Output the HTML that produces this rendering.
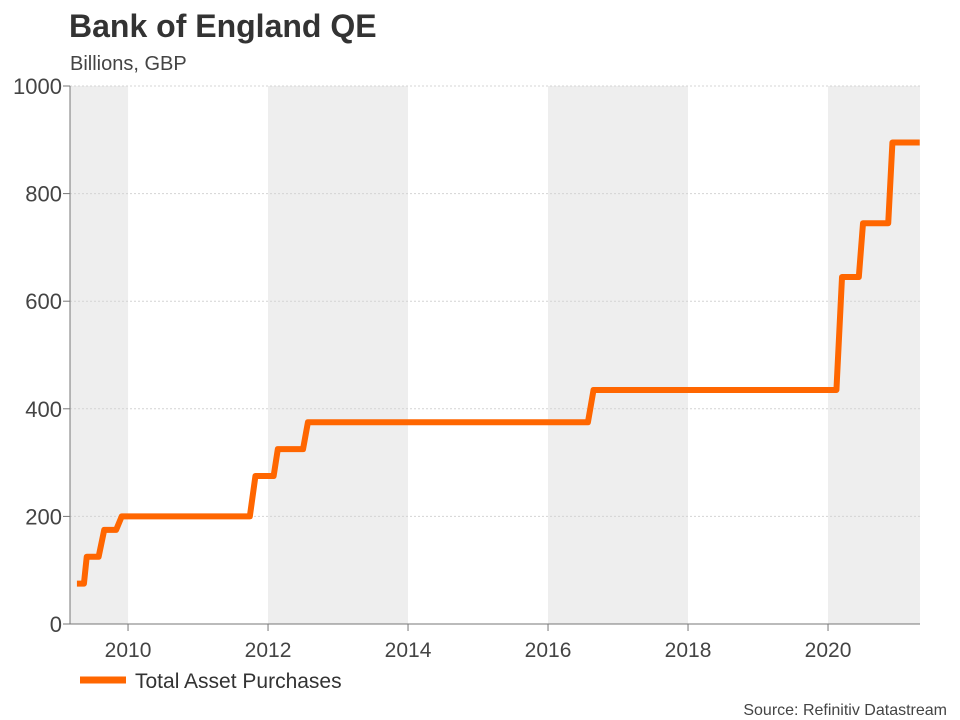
<!DOCTYPE html>
<html><head><meta charset="utf-8"><style>
body{margin:0;background:#fff;}
svg{display:block;font-family:"Liberation Sans",Arial,sans-serif;}
</style></head><body>
<svg id="chart" width="960" height="720">
<text x="69" y="37" font-size="32" font-weight="bold" fill="#333">Bank of England QE</text>
<text x="70" y="70" font-size="20" fill="#444">Billions, GBP</text>
<g id="bands"></g><g id="grid"></g><g id="axes"></g><g id="series"></g>
<line x1="80" y1="680" x2="126" y2="680" stroke="#ff6600" stroke-width="7"/>
<text x="135" y="688" font-size="21" fill="#333">Total Asset Purchases</text>
<text x="947" y="715" font-size="16" fill="#444" text-anchor="end">Source: Refinitiv Datastream</text>
</svg>
<script>
const dates=[2009.27,2009.37,2009.41,2009.58,2009.66,2009.83,2009.91,2011.74,2011.82,2012.08,2012.14,2012.50,2012.57,2016.57,2016.65,2020.12,2020.20,2020.44,2020.50,2020.86,2020.92,2021.31];
const values=[75,75,125,125,175,175,200,200,275,275,325,325,375,375,435,435,645,645,745,745,895,895];
const yTicks=[0,200,400,600,800,1000];
const xTicks=[2010,2012,2014,2016,2018,2020];
const bandStarts=[2008,2012,2016,2020];
const X0=70,X1=920,Y0=624,Y1=86,T0=2009.171,T1=2021.314;
const x=t=>X0+(t-T0)/(T1-T0)*(X1-X0);
const y=v=>Y0-v/1000*(Y0-Y1);
const NS="http://www.w3.org/2000/svg";
function mk(tag,attrs,parent,txt){const e=document.createElementNS(NS,tag);for(const k in attrs)e.setAttribute(k,attrs[k]);if(txt!=null)e.textContent=txt;document.getElementById(parent).appendChild(e);return e;}
bandStarts.forEach(b=>{const a=Math.max(x(b),X0),c=Math.min(x(b+2),X1);
const r=mk('rect',{x:a,y:Y1,width:c-a,height:Y0-Y1,fill:'#eeeeee'},'bands');

});
yTicks.forEach(v=>{
if(v>0){const g=mk('line',{x1:X0,x2:X1,y1:y(v),y2:y(v),stroke:'#d4d4d4','stroke-dasharray':'2,2','stroke-width':1},'grid');

}
const tk=mk('line',{x1:X0-7,x2:X0,y1:y(v),y2:y(v),stroke:'#777'},'axes');


const t=mk('text',{x:X0-8,y:y(v)+8,'font-size':22,fill:'#444','text-anchor':'end'},'axes',String(v));

});
xTicks.forEach(v=>{
const tk=mk('line',{x1:x(v),x2:x(v),y1:Y0,y2:Y0+7,stroke:'#777'},'axes');


const t=mk('text',{x:x(v),y:Y0+33,'font-size':21,fill:'#444','text-anchor':'middle'},'axes',String(v));

});
const ya=mk('line',{x1:X0,x2:X0,y1:Y1,y2:Y0,stroke:'#777'},'axes');


const xa=mk('line',{x1:X0,x2:X1,y1:Y0,y2:Y0,stroke:'#777'},'axes');


const p=mk('polyline',{points:dates.map((d,i)=>x(d)+','+y(values[i])).join(' '),fill:'none',stroke:'#ff6600','stroke-width':6,'stroke-linejoin':'round'},'series');


</script>
</body></html>
